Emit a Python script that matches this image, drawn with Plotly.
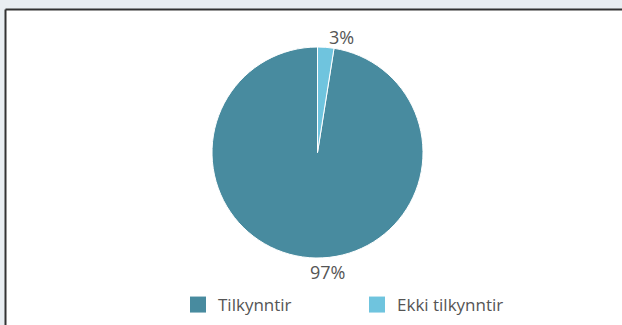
import math
import plotly.graph_objects as go

categories = ["Tilkynntir", "Ekki tilkynntir"]
values = [97.5, 2.5]
value_labels = ["97%", "3%"]
colors = ["#488b9f", "#6fc4de"]

W, H = 622, 325
cx, cy, r = 317.5, 152.5, 105.5
label_dist = 118

total = sum(values)
# start the big slice right after the small one so the small one sits just right of 12 o'clock
start_rotation = values[1] / total * 360

fig = go.Figure(go.Pie(
    labels=categories,
    values=values,
    textinfo="none",
    direction="clockwise",
    rotation=start_rotation,
    sort=False,
    automargin=False,
    showlegend=False,
    marker=dict(colors=colors, line=dict(color="white", width=1)),
    domain=dict(x=[(cx - 300) / W, (cx + 300) / W],
                y=[1 - (cy + r) / H, 1 - (cy - r) / H]),
    hoverinfo="label+percent",
))

# legend entries with larger square swatches
for name, col in zip(categories, colors):
    fig.add_trace(go.Scatter(
        x=[None], y=[None], mode="markers", name=name,
        marker=dict(symbol="square", size=19, color=col, line=dict(width=0)),
        showlegend=True, hoverinfo="skip",
    ))

# percentage labels placed at each slice's mid-angle, outside the pie
annotations = []
acc = 0.0
for v, lab in zip(values, value_labels):
    mid = start_rotation + (acc + v / 2) / total * 360
    acc += v
    a = math.radians(mid)
    px = cx + label_dist * math.sin(a)
    py = cy - label_dist * math.cos(a)
    annotations.append(dict(
        x=px / W, y=1 - py / H, xref="paper", yref="paper",
        text=lab, showarrow=False, xanchor="left", yanchor="middle",
        yshift=-2,
        font=dict(family="Open Sans", size=18, color="#555555"),
    ))

fig.update_layout(
    width=W, height=H,
    margin=dict(l=0, r=0, t=0, b=0, autoexpand=False),
    paper_bgcolor="#e9eef2",
    plot_bgcolor="rgba(0,0,0,0)",
    xaxis=dict(visible=False),
    yaxis=dict(visible=False),
    showlegend=True,
    legend=dict(
        orientation="h",
        itemsizing="trace",
        x=178 / W, xanchor="left",
        y=1 - 305 / H, yanchor="middle",
        font=dict(family="Open Sans", size=17, color="#555555"),
        entrywidth=134, entrywidthmode="pixels",
        bgcolor="rgba(0,0,0,0)",
    ),
    annotations=annotations,
    shapes=[
        dict(type="rect", xref="paper", yref="paper", layer="below",
             x0=6 / W, x1=1.05, y0=-0.05, y1=1 - 9.5 / H,
             fillcolor="white", line=dict(width=0)),
        dict(type="line", xref="paper", yref="paper", layer="below",
             x0=5.5 / W, x1=1.05, y0=1 - 9.5 / H, y1=1 - 9.5 / H,
             line=dict(color="#333333", width=2)),
        dict(type="line", xref="paper", yref="paper", layer="below",
             x0=5.5 / W, x1=5.5 / W, y0=-0.05, y1=1 - 9.5 / H,
             line=dict(color="#333333", width=2)),
    ],
)

fig.write_html("out.html")
